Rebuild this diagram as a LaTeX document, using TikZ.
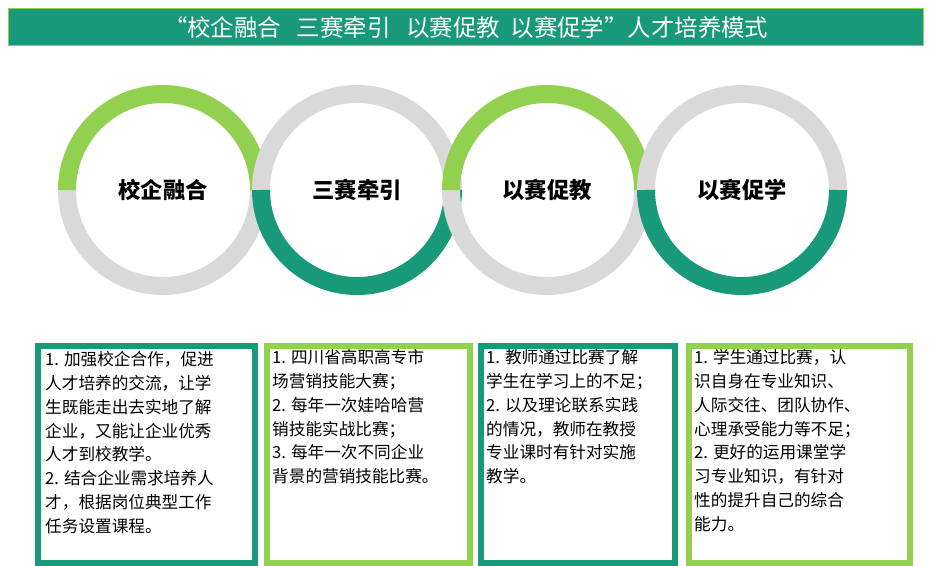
\documentclass[tikz,border=0pt]{standalone}
\usepackage{fontspec}
\setmainfont{Noto Sans CJK SC}
\newfontfamily\cjk{Noto Sans CJK SC}
\usetikzlibrary{positioning}
\definecolor{teal1}{HTML}{17997A}
\definecolor{green1}{HTML}{92D050}
\definecolor{gray1}{HTML}{D9D9D9}
\tikzset{
  ring/.style={line width=5.4mm},
  label/.style={font=\cjk\bfseries\fontsize{19}{22}\selectfont},
  card/.style={draw,line width=1.8mm,fill=white,anchor=north west,inner sep=0pt},
  cardtext/.style={anchor=north west,align=left,inner sep=0pt,font=\cjk\fontsize{14.2}{20.4}\selectfont}
}
\begin{document}
\begin{tikzpicture}[x=0.3mm,y=-0.3mm]
\useasboundingbox (0,0) rectangle (929,565);
\node[draw=green1,fill=teal1,line width=0.4mm,minimum width=91.5*3mm,minimum height=37*3mm/10,anchor=north west,inner sep=0pt,
  font=\cjk\fontsize{20}{22}\selectfont,text=white] (title) at (8,8)
  {“校企融合 \ \ 三赛牵引 \ \ 以赛促教 \ 以赛促学”人才培养模式};
% rings
\draw[ring,gray1] (163,190) ++(0:96) arc[start angle=0,end angle=-180,radius=28.8mm];
\draw[ring,green1] (163,190) ++(0:96) arc[start angle=0,end angle=180,radius=28.8mm];
\draw[ring,gray1] (357,190) ++(0:96) arc[start angle=0,end angle=180,radius=28.8mm];
\draw[ring,teal1] (357,190) ++(0:96) arc[start angle=0,end angle=-180,radius=28.8mm];
\draw[ring,gray1] (547,190) ++(0:96) arc[start angle=0,end angle=-180,radius=28.8mm];
\draw[ring,green1] (547,190) ++(0:96) arc[start angle=0,end angle=180,radius=28.8mm];
\draw[ring,gray1] (742,190) ++(0:96) arc[start angle=0,end angle=180,radius=28.8mm];
\draw[ring,teal1] (742,190) ++(0:96) arc[start angle=0,end angle=-180,radius=28.8mm];
\node[label] (l1) at (163,190) {校企融合};
\node[label] (l2) at (357,190) {三赛牵引};
\node[label] (l3) at (547,190) {以赛促教};
\node[label] (l4) at (742,190) {以赛促学};
% cards
\node[card,draw=teal1,minimum width=217*0.3mm,minimum height=217*0.3mm] (c1) at (35,343) {};
\node[card,draw=green1,minimum width=203*0.3mm,minimum height=217*0.3mm] (c2) at (264,343) {};
\node[card,draw=teal1,minimum width=194*0.3mm,minimum height=217*0.3mm] (c3) at (478,343) {};
\node[card,draw=green1,minimum width=221*0.3mm,minimum height=217*0.3mm] (c4) at (686,343) {};
\node[cardtext] (t1) at ([xshift=3mm,yshift=-2.4mm]c1.north west)
  {1. 加强校企合作，促进\\人才培养的交流，让学\\生既能走出去实地了解\\企业，又能让企业优秀\\人才到校教学。\\2. 结合企业需求培养人\\才，根据岗位典型工作\\任务设置课程。};
\node[cardtext] (t2) at ([xshift=2.4mm,yshift=-1.8mm]c2.north west)
  {1. 四川省高职高专市\\场营销技能大赛；\\2. 每年一次娃哈哈营\\销技能实战比赛；\\3. 每年一次不同企业\\背景的营销技能比赛。};
\node[cardtext] (t3) at ([xshift=2.4mm,yshift=-1.8mm]c3.north west)
  {1. 教师通过比赛了解\\学生在学习上的不足；\\2. 以及理论联系实践\\的情况，教师在教授\\专业课时有针对实施\\教学。};
\node[cardtext] (t4) at ([xshift=2.4mm,yshift=-1.8mm]c4.north west)
  {1. 学生通过比赛，认\\识自身在专业知识、\\人际交往、团队协作、\\心理承受能力等不足；\\2. 更好的运用课堂学\\习专业知识，有针对\\性的提升自己的综合\\能力。};
\end{tikzpicture}
\end{document}
